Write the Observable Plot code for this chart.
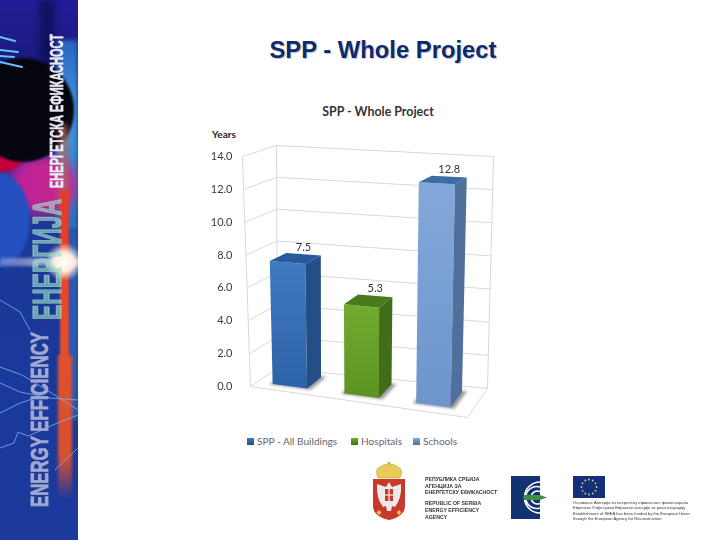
<!DOCTYPE html>
<html>
<head>
<meta charset="utf-8">
<script src="https://cdn.jsdelivr.net/npm/d3@7"></script>
<script src="https://cdn.jsdelivr.net/npm/@observablehq/plot@0.6"></script>
<style>
html,body{margin:0;padding:0;background:#fff;width:720px;height:540px;overflow:hidden}
#page{position:relative;width:720px;height:540px;overflow:hidden}
#page>svg{position:absolute;left:0;top:0}
.abs{position:absolute;white-space:nowrap}
</style>
</head>
<body>
<div id="page"></div>
<script>
// ---- chart data ----
const slideTitle = "SPP - Whole Project";
const chartTitle = "SPP - Whole Project";
const yLabel = "Years";
const categories = ["SPP - All Buildings", "Hospitals", "Schools"];
const values = [7.5, 5.3, 12.8];
const valueLabels = ["7.5", "5.3", "12.8"];
const yTicks = [0, 2, 4, 6, 8, 10, 12, 14];
const frontTop = ["#4079c0", "#72ab30", "#83a8d9"];
const frontBottom = ["#2d62a8", "#5c9422", "#6d95cc"];
const sideColors = ["#234f86", "#3f6d18", "#4f6f9c"];
const topColors = ["#265a9c", "#4a7a1e", "#3f6ca4"];

// ---- oblique 3D box projected into chart units (x: share of floor edge, y: years) ----
const floorFL = [0, 0], floorBL = [0.124, 1.10], floorBR = [1.092, -0.12], floorFR = [1, -1.89];
const roofFL = [-0.037, 14], roofBL = [0.12, 14.67], roofBR = [1.12, 14], roofFR = [1.028, 13.36];
const lerp = (a, b, t) => a + (b - a) * t;
const bilerp = (fl, fr, bl, br, u, w, i) => lerp(lerp(fl[i], fr[i], u), lerp(bl[i], br[i], u), w);
function project(u, v, w) {
  const t = v / 14;
  return {
    x: lerp(bilerp(floorFL, floorFR, floorBL, floorBR, u, w, 0), bilerp(roofFL, roofFR, roofBL, roofBR, u, w, 0), t),
    y: lerp(bilerp(floorFL, floorFR, floorBL, floorBR, u, w, 1), bilerp(roofFL, roofFR, roofBL, roofBR, u, w, 1), t)
  };
}
const slot = i => (i + 0.5) / categories.length - 0.015;
const halfBar = 0.08, wFront = 0.25, wBack = 0.8;

const seg = (key, a, b) => [{key, ...project(...a)}, {key, ...project(...b)}];
const wallRows = [
  ...yTicks.flatMap(t => [...seg("l" + t, [0, t, 0], [0, t, 1]), ...seg("b" + t, [0, t, 1], [1, t, 1])]),
  ...seg("e1", [0, 0, 0], [0, 14, 0]),
  ...seg("e2", [0, 0, 1], [0, 14, 1]),
  ...seg("e3", [1, 0, 1], [1, 14, 1]),
  ...seg("e4", [0, 0, 0], [1, 0, 0]),
  ...seg("e5", [1, 0, 0], [1, 0, 1])
];

const poly = pts => pts.map(p => project(...p));
const faceMarks = categories.flatMap((c, i) => {
  const u0 = slot(i) - halfBar, u1 = slot(i) + halfBar, v = values[i];
  return [
    Plot.line(poly([[u0, v, wFront], [u1, v, wFront], [u1, 0, wFront], [u0, 0, wFront], [u0, v, wFront]]),
      {x: "x", y: "y", fill: `url(#front${i})`, stroke: "none"}),
    Plot.line(poly([[u1, v, wFront], [u1, v, wBack], [u1, 0, wBack], [u1, 0, wFront], [u1, v, wFront]]),
      {x: "x", y: "y", fill: sideColors[i], stroke: "none"}),
    Plot.line(poly([[u0, v, wFront], [u0, v, wBack], [u1, v, wBack], [u1, v, wFront], [u0, v, wFront]]),
      {x: "x", y: "y", fill: topColors[i], stroke: "none"})
  ];
});
const shadowMarks = categories.map((c, i) => {
  const u0 = slot(i) - halfBar - 0.012, u1 = slot(i) + halfBar + 0.02;
  return Plot.line(poly([[u0, 0, wFront - 0.03], [u1, 0, wFront - 0.03], [u1, 0, wBack + 0.04], [u0, 0, wBack + 0.04], [u0, 0, wFront - 0.03]]),
    {x: "x", y: "y", fill: "#444", fillOpacity: 0.55, stroke: "none", imageFilter: "blur(1.8px)"});
});
const labelRows = categories.map((c, i) => ({...project(slot(i), values[i], wBack), label: valueLabels[i]}));

const chart = Plot.plot({
  width: 720, height: 540,
  marginLeft: 250, marginRight: 253, marginTop: 156, marginBottom: 154,
  x: {domain: [0, 1], axis: null},
  y: {domain: [0, 14], axis: null},
  style: {fontFamily: "Lato, sans-serif", background: "transparent", overflow: "visible", filter: "blur(.3px)"},
  marks: [
    Plot.line(wallRows, {x: "x", y: "y", z: "key", stroke: "#d8d8d8", strokeWidth: 1}),
    Plot.axisY(yTicks, {anchor: "left", tickSize: 0, tickPadding: 18, fontSize: 11, fill: "#3a3a3a",
      tickFormat: d => d.toFixed(1), label: null}),
    ...shadowMarks,
    ...faceMarks,
    Plot.text(labelRows, {x: "x", y: "y", text: "label", dy: -7, fontSize: 11, fill: "#333"})
  ]
});
chart.insertAdjacentHTML("afterbegin", "<defs>" + categories.map((c, i) =>
  `<linearGradient id="front${i}" x1="0" y1="0" x2="0" y2="1"><stop offset="0" stop-color="${frontTop[i]}"/><stop offset="1" stop-color="${frontBottom[i]}"/></linearGradient>`
).join("") + "</defs>");
const page = document.getElementById("page");
page.appendChild(chart);

// ---- html text and decoration ----
function addDiv(css, html) {
  const d = document.createElement("div");
  d.className = "abs";
  d.style.cssText = css;
  if (html) d.innerHTML = html;
  page.appendChild(d);
  return d;
}
addDiv(`left:243px;width:280px;top:36px;text-align:center;font:bold 23.8px 'Liberation Sans',Arial,sans-serif;line-height:28px;color:#0e2a68;text-shadow:1px 1px 1px #b9c2d4`, slideTitle);
addDiv(`left:278px;width:200px;top:104px;text-align:center;font:bold 12.4px Lato,sans-serif;color:#333`, chartTitle);
addDiv(`left:212px;top:128px;font:bold 10px Lato,sans-serif;color:#222`, yLabel);

// legend
const legendX = [247, 351, 413];
categories.forEach((c, i) => {
  addDiv(`left:${legendX[i]}px;top:438px;width:7px;height:7px;background:linear-gradient(${frontTop[i]},${sideColors[i]})`);
  addDiv(`left:${legendX[i] + 10}px;top:435px;font:10.1px Lato,sans-serif;color:#666`, c);
});

// ---- sidebar ----
const side = addDiv(`left:0;top:0;width:78px;height:540px;overflow:hidden;background:linear-gradient(#241c96 0,#1c1a80 60px,#1b2f96 170px,#1c3a9c 260px,#1a3590 300px,#1b3796 420px,#1a2f88 540px);filter:blur(.4px)`);
function blob(l, t, w, h, bg, r, blur) {
  const d = document.createElement("div");
  d.style.cssText = `position:absolute;left:${l}px;top:${t}px;width:${w}px;height:${h}px;background:${bg};border-radius:${r || 0};filter:blur(${blur || 0}px)`;
  side.appendChild(d);
}
blob(56, 40, 22, 190, "linear-gradient(#2a62c0,#3b8ed8 30%,#3a90d6 55%,#2a6cc0)", 0, 2);
blob(40, 0, 14, 70, "#10105a", 0, 4);
blob(8, 155, 70, 60, "linear-gradient(90deg,#c0209a,#c42a8e)", "50%", 6);
blob(-36, 172, 66, 96, "#2450c0", "50%", 1.5);
blob(0, 268, 78, 272, "linear-gradient(#1a3898,#1c3a9c)", 0, 0);
blob(-22, 118, 50, 54, "#c4003c", "50%", 0.8);
blob(-28, 58, 102, 104, "#060610", "50%", 1.2);
blob(60, 125, 7, 80, "#b06a60", 0, 3);
blob(68, 230, 10, 190, "#2a5cb4", 0, 2);
blob(60, 190, 9, 210, "linear-gradient(#e03a2c,#e84a28 60%,#e2562e)", 0, 1.2);
blob(58, 355, 14, 145, "linear-gradient(#e0502c,#d8502f 70%,rgba(190,70,60,0))", 0, 1.5);
blob(0, 258, 78, 8, "linear-gradient(90deg,rgba(200,210,240,.35),rgba(230,235,250,.8))", 0, 1.5);
blob(48, 240, 32, 44, "radial-gradient(circle,#fff 0,#ffeedd 35%,rgba(255,230,200,0) 70%)", 0, 1);
side.insertAdjacentHTML("beforeend", `<svg width="78" height="540" style="position:absolute;left:0;top:0" fill="none" stroke-linecap="round">
<g stroke="#63c2f2" stroke-width="2" style="filter:blur(.6px)"><path d="M0 37 L15 41"/><path d="M0 50 L18 52"/><path d="M0 56 L14 57"/><path d="M0 62 L22 67"/></g>
<g stroke="#7fb0ea" stroke-width=".9" opacity=".9"><path d="M0 367 L22 375 L50 392 L78 410"/><path d="M0 383 L20 392 L50 398 L78 400"/><path d="M0 413 L18 404 L40 396"/><path d="M0 448 L14 443 L18 432 L28 436 L40 431 L55 424 L78 415"/><path d="M55 470 L78 448"/><path d="M0 300 L20 312 L30 330"/></g>
</svg>`);
function vtext(t, x0, x1, y0, y1, color, size, weight, family, stroke) {
  // rotated text fitted to a band: x0..x1 across, y0..y1 along
  const d = document.createElement("div");
  d.textContent = t;
  d.style.cssText = `position:absolute;left:0;top:0;white-space:nowrap;font:${weight} ${size}px ${family};color:${color};line-height:1;transform-origin:0 0;-webkit-text-stroke:${stroke}px ${color}`;
  side.appendChild(d);
  const r = d.getBoundingClientRect();
  const sx = (y1 - y0) / r.width, sy = (x1 - x0) / r.height;
  d.style.transform = `translate(${x0}px,${y1}px) rotate(-90deg) scale(${sx},${sy})`;
}
const fam = "'Liberation Sans',Arial,sans-serif";
vtext("ЕНЕРГЕТСКА ЕФИКАСНОСТ", 47, 66, 34, 188, "#e9e9f2", 20, "bold", fam, 0.7);
vtext("ЕНЕРГИЈА", 27, 67, 199, 320, "rgba(160,225,200,.62)", 38, "bold", fam, 1.2);
vtext("ENERGY EFFICIENCY", 28, 52, 332, 507, "#a1a9d0", 22, "bold", fam, 0.8);

// ---- logo strip ----
const logos = addDiv(`left:0;top:0;width:720px;height:540px;filter:blur(.45px);pointer-events:none`);
logos.insertAdjacentHTML("beforeend", `<svg width="720" height="540" style="position:absolute;left:0;top:0">
<g>
<path d="M378 478 q-4 -9 2 -11 q4 -4 9 -2 q5 -2 9 2 q6 2 2 11 z" fill="#e6cc5a" stroke="#b89a2e" stroke-width=".5"/>
<circle cx="389" cy="463.5" r="1.8" fill="#d9b93a"/>
<path d="M373 479 H405 V506 Q405 516 389 520 Q373 516 373 506 Z" fill="#c8382c"/>
<path d="M389 482 l-3 5 l-9 -3 q-1 14 6 23 l3 -1 l1 5 h4 l1 -5 l3 1 q7 -9 6 -23 l-9 3 z" fill="#efeaea"/>
<rect x="385" y="489" width="8" height="12" fill="#c8382c"/><path d="M389 489 V501 M385 495 H393" stroke="#fff" stroke-width="1.1"/>
<path d="M379 510 l2.5 2.5 l-2.5 2.5 l-2.5 -2.5z M399 510 l2.5 2.5 l-2.5 2.5 l-2.5 -2.5z" fill="#e6c84a"/>
</g>
<rect x="511" y="476" width="29" height="43" fill="#123270"/>
<g fill="none" stroke="#fff" stroke-width="1.6"><path d="M540 482 A15.5 15.5 0 1 0 540 513"/><path d="M540 487 A11 11 0 1 0 540 508"/><path d="M540 491.5 A6.5 6.5 0 1 0 540 503.5"/></g>
<path d="M524 495 H540 L547 497.5 L540 500 H524 Z" fill="#3c8f4a"/>
<rect x="573" y="476" width="32" height="22" fill="#15307a"/>
<g fill="#e8d44a">${d3.range(12).map(k => `<circle cx="${(589 + 7.5 * Math.cos(k * Math.PI / 6)).toFixed(1)}" cy="${(487 + 7.5 * Math.sin(k * Math.PI / 6)).toFixed(1)}" r=".9"/>`).join("")}</g>
</svg>`);
const ltxt = (x, y, s, t, w, c) => {
  const d = document.createElement("div");
  d.className = "abs";
  d.style.cssText = `left:${x}px;top:${y}px;font:${w} ${s}px 'Liberation Sans',Arial,sans-serif;color:${c};line-height:1`;
  d.textContent = t;
  logos.appendChild(d);
};
[["РЕПУБЛИКА СРБИЈА", 477], ["АГЕНЦИЈА ЗА", 483.5], ["ЕНЕРГЕТСКУ ЕФИКАСНОСТ", 490], ["REPUBLIC OF SERBIA", 500.5], ["ENERGY EFFICIENCY", 507.5], ["AGENCY", 514.5]]
  .forEach(([t, y]) => ltxt(425, y, 5.2, t, "bold", "#333"));
[["Оснивање Агенције за енергетску ефикасност финансирала", 500.5], ["Европска Унија преко Европске агенције за реконструкцију", 505.5], ["Establishment of SEEA has been funded by the European Union", 511.5], ["through the European Agency for Reconstruction", 516.5]]
  .forEach(([t, y]) => ltxt(573, y, 4.1, t, "normal", "#333"));
</script>
</body>
</html>
